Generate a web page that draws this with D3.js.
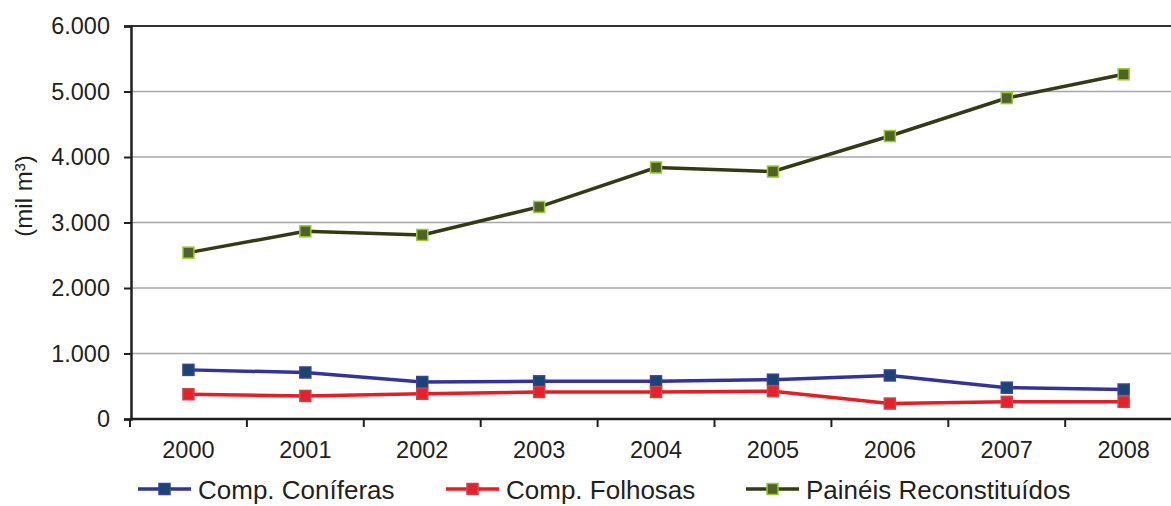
<!DOCTYPE html>
<html>
<head>
<meta charset="utf-8">
<script src="https://cdn.jsdelivr.net/npm/d3@7"></script>
<style>
    body { margin: 0; background: #fff; }
    svg { display: block; font-family: "Liberation Sans", Arial, sans-serif; }
</style>
</head>
<body>
<figure id="chart" style="margin:0"></figure>
<script>
// data (mil m³)
var years = ["2000", "2001", "2002", "2003", "2004", "2005", "2006", "2007", "2008"];
var coniferas = [750, 710, 565, 575, 575, 600, 665, 478, 450];
var folhosas = [378, 352, 385, 412, 412, 424, 236, 262, 262];
var paineis = [2540, 2865, 2810, 3238, 3840, 3778, 4320, 4900, 5262];
var yTicks = [0, 1000, 2000, 3000, 4000, 5000, 6000];
var seriesNames = ["Comp. Coníferas", "Comp. Folhosas", "Painéis Reconstituídos"];

let dimensions = {
    width: 1171,
    height: 506,
    margin: { top: 26, left: 130, bottom: 87 },
};
dimensions.boundedHeight = dimensions.height - dimensions.margin.top - dimensions.margin.bottom;

var svg = d3.select("figure#chart")
    .append("svg")
    .attr("width", dimensions.width)
    .attr("height", dimensions.height);

var xScale = d3.scaleBand()
    .domain(years)
    .range([130, 130 + 9 * 116.9])
    .padding(0);

var yScale = d3.scaleLinear()
    .domain([0, 6000])
    .range([419, 26]);

var ptBR = d3.formatLocale({ decimal: ",", thousands: ".", grouping: [3], currency: ["R$", ""] });
var fmt = ptBR.format(",.0f");

// gridlines
svg.append("g")
    .selectAll("line")
    .data(yTicks.filter(d => d > 0))
    .enter()
    .append("line")
    .attr("x1", 131)
    .attr("x2", dimensions.width)
    .attr("y1", d => yScale(d))
    .attr("y2", d => yScale(d))
    .attr("stroke", d => d === 6000 ? "#333" : "#a6a6a6")
    .attr("stroke-width", d => d === 6000 ? 2 : 1.5);

// y axis
var yAxis = svg.append("g")
    .attr("transform", "translate(131,0)")
    .call(d3.axisLeft(yScale).tickValues(yTicks).tickFormat(d => d === 0 ? "0" : fmt(d)).tickSize(7).tickPadding(14));
yAxis.select(".domain").attr("stroke", "#231f20").attr("stroke-width", 2.5);
yAxis.selectAll(".tick line").attr("stroke", "#231f20").attr("stroke-width", 2);
yAxis.selectAll("text")
    .attr("fill", "#231f20")
    .style("font-size", "23.5px");

// x axis
var xAxis = svg.append("g")
    .attr("transform", "translate(0,419)");
xAxis.append("line")
    .attr("x1", 130)
    .attr("x2", dimensions.width)
    .attr("stroke", "#231f20")
    .attr("stroke-width", 2.5);
xAxis.selectAll("line.tk")
    .data(years)
    .enter()
    .append("line")
    .attr("class", "tk")
    .attr("x1", d => xScale(d))
    .attr("x2", d => xScale(d))
    .attr("y1", 0)
    .attr("y2", 8)
    .attr("stroke", "#231f20")
    .attr("stroke-width", 2);
xAxis.selectAll("text")
    .data(years)
    .enter()
    .append("text")
    .attr("x", d => xScale(d) + xScale.bandwidth() / 2)
    .attr("y", 39)
    .attr("text-anchor", "middle")
    .attr("fill", "#231f20")
    .style("font-size", "23.5px")
    .text(d => d);

// y label
svg.append("text")
    .attr("transform", "translate(32,196) rotate(-90)")
    .attr("text-anchor", "middle")
    .attr("fill", "#231f20")
    .style("font-size", "24px")
    .text("(mil m³)");

var styles = [
    { line: "#333399", fill: "#17466e", stroke: "#3a3fa0", values: coniferas },
    { line: "#e31e24", fill: "#e8202a", stroke: "#c8464a", values: folhosas },
    { line: "#343a16", fill: "#4f6228", stroke: "#99cc33", values: paineis },
];

var lineGen = d3.line()
    .x((d, i) => xScale(years[i]) + xScale.bandwidth() / 2)
    .y(d => yScale(d));

styles.forEach(function(s) {
    svg.append("path")
        .attr("d", lineGen(s.values))
        .attr("fill", "none")
        .attr("stroke", s.line)
        .attr("stroke-width", 3.5);
    svg.selectAll(null)
        .data(s.values)
        .enter()
        .append("rect")
        .attr("x", (d, i) => xScale(years[i]) + xScale.bandwidth() / 2 - 5.5)
        .attr("y", d => yScale(d) - 5.5)
        .attr("width", 11)
        .attr("height", 11)
        .attr("fill", s.fill)
        .attr("stroke", s.stroke)
        .attr("stroke-width", 1.5);
});

// legend (kept just inside the bottom edge)
var legendX = [138, 446, 746];
var legend = svg.selectAll("g.legend")
    .data(styles)
    .enter()
    .append("g")
    .attr("class", "legend")
    .attr("transform", (d, i) => `translate(${legendX[i]}, 489)`);
legend.append("line")
    .attr("x1", 0)
    .attr("x2", 53)
    .attr("stroke", d => d.line)
    .attr("stroke-width", 3.5);
legend.append("rect")
    .attr("x", 21)
    .attr("y", -5.5)
    .attr("width", 11)
    .attr("height", 11)
    .attr("fill", d => d.fill)
    .attr("stroke", d => d.stroke)
    .attr("stroke-width", 1.5);
legend.append("text")
    .attr("x", 60)
    .attr("y", 10)
    .attr("fill", "#231f20")
    .style("font-size", "26px")
    .text((d, i) => seriesNames[i]);
</script>
</body>
</html>
